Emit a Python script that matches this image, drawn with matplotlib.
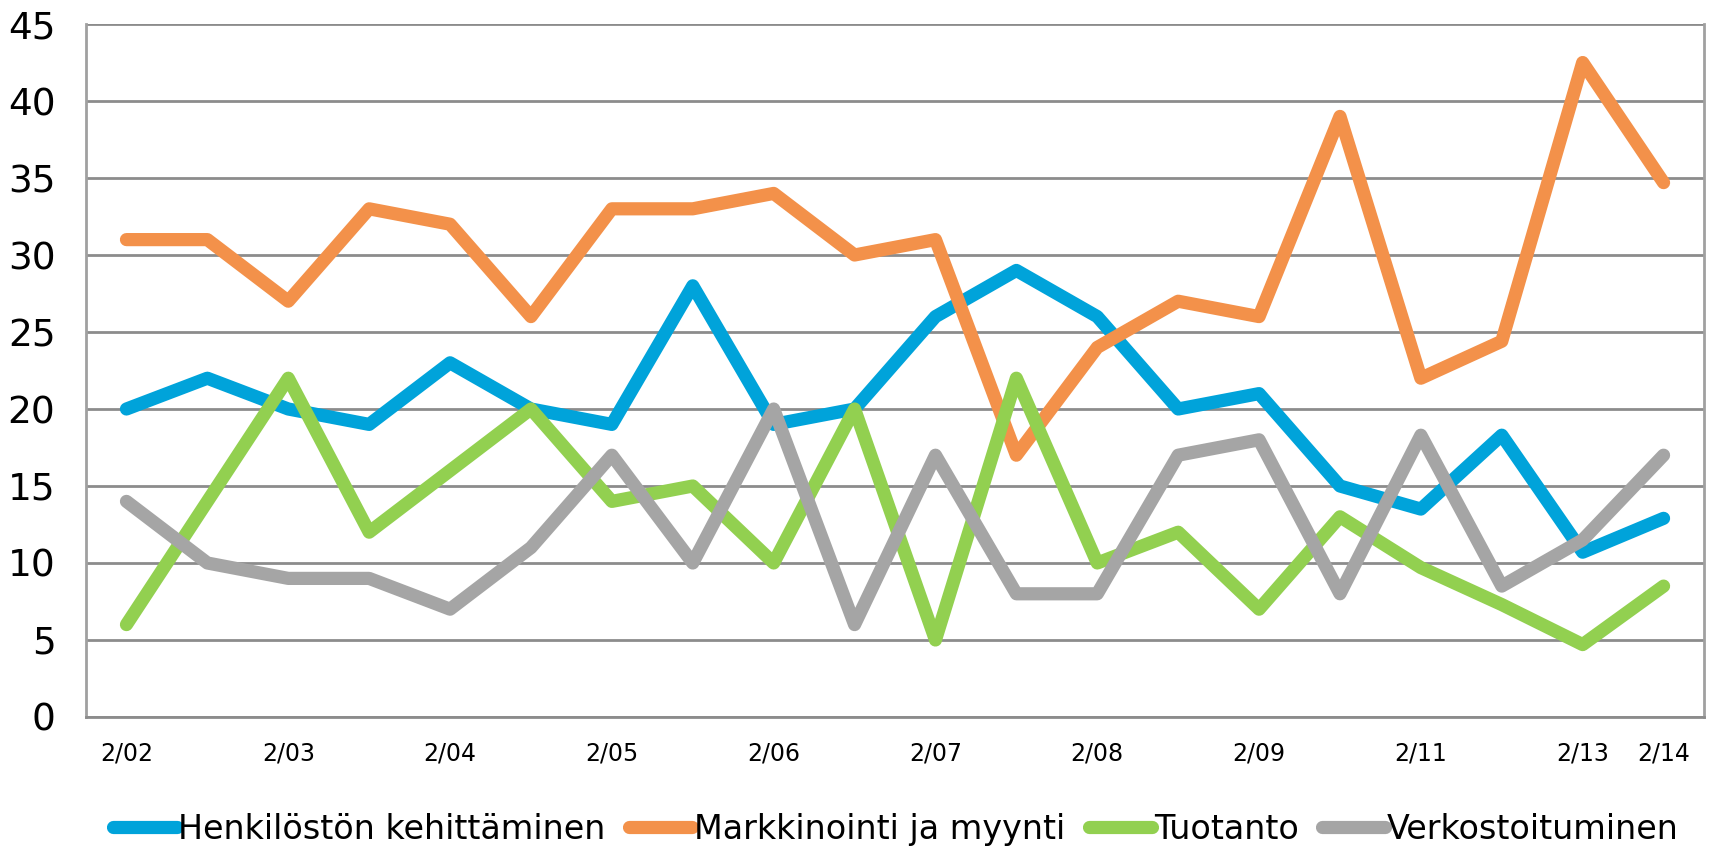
import numpy as np
from matplotlib import pyplot as plt

# Data
periods = ['2/02', '', '2/03', '', '2/04', '', '2/05', '', '2/06', '',
           '2/07', '', '2/08', '', '2/09', '', '2/11', '', '2/13', '2/14']
henkilosto = [20, 22, 20, 19, 23, 20, 19, 28, 19, 20,
              26, 29, 26, 20, 21, 15, 13.5, 18.3, 10.7, 12.9]
markkinointi = [31, 31, 27, 33, 32, 26, 33, 33, 34, 30,
                31, 17, 24, 27, 26, 39, 22, 24.4, 42.5, 34.7]
tuotanto = [6, 14, 22, 12, 16, 20, 14, 15, 10, 20,
            5, 22, 10, 12, 7, 13, 9.7, 7.3, 4.7, 8.5]
verkosto = [14, 10, 9, 9, 7, 11, 17, 10, 20, 6,
            17, 8, 8, 17, 18, 8, 18.3, 8.5, 11.5, 17]

series_names = ['Henkilöstön kehittäminen', 'Markkinointi ja myynti', 'Tuotanto', 'Verkostoituminen']
colors = ['#00A3DA', '#F3914A', '#92D050', '#A5A5A5']

plt.rcParams['font.family'] = ['DejaVu Sans']

fig = plt.figure(figsize=(17.1, 8.46), dpi=100)
ax = fig.add_axes([0.0503, 0.1525, 0.9462, 0.8191])

x = np.arange(len(periods))
for vals, name, c in zip([henkilosto, markkinointi, tuotanto, verkosto], series_names, colors):
    ax.plot(x, vals, color=c, linewidth=9.5, label=name,
            solid_capstyle='round', solid_joinstyle='round')

# Axes styling
ax.set_xlim(-0.5, 19.5)
ax.set_ylim(0, 45)
ax.set_yticks(np.arange(0, 50, 5))
ax.yaxis.grid(True, color='#8C8C8C', linewidth=2)
ax.set_axisbelow(True)
ax.tick_params(axis='y', length=0, labelsize=27, pad=22)

tick_idx = [i for i, p in enumerate(periods) if p]
ax.set_xticks(tick_idx)
ax.set_xticklabels([periods[i] for i in tick_idx])
ax.tick_params(axis='x', length=0, labelsize=17, pad=18)

ax.spines['top'].set_visible(False)
ax.spines['bottom'].set_color('#8C8C8C')
ax.spines['bottom'].set_linewidth(2)
for side in ['left', 'right']:
    ax.spines[side].set_color('#A0A0A0')
    ax.spines[side].set_linewidth(2)

# Legend below the plot
fig.legend(loc='lower center', ncol=4, frameon=False, fontsize=24,
           handlelength=1.9, handletextpad=0.05, columnspacing=0.7,
           bbox_to_anchor=(0.524, -0.035))

plt.savefig('out.png', dpi=100)
